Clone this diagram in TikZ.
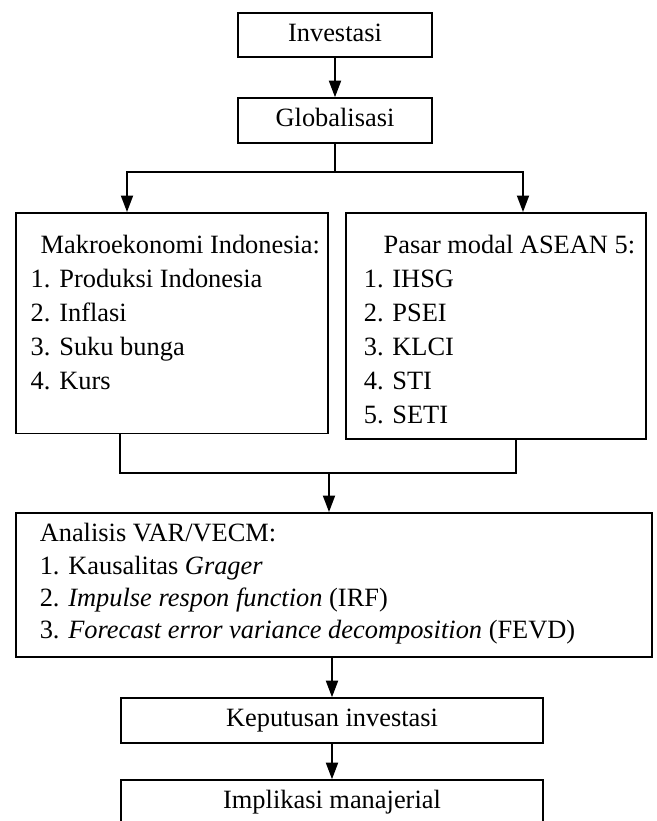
\documentclass[tikz,border=0pt]{standalone}
\usepackage{fontspec}
\setmainfont{Liberation Serif}
\usetikzlibrary{arrows.meta}

% width, height, left pad, first baseline, line skip, lines
\newcommand{\boxlist}[6]{%
  \parbox[t][#2][t]{#1}{\fontsize{12pt}{#5}\selectfont
    \leftskip=#3\relax\rule{0pt}{#4}#6}}

\begin{document}
\begin{tikzpicture}[->,>={Triangle[length=7.5pt,width=5.5pt]},
                    x=0.4545pt,y=-0.4545pt,line width=0.7pt,
                    box/.style={draw,font=\fontsize{12pt}{14pt}\selectfont,
                                text height=8pt,text depth=2.5pt},
                    listbox/.style={draw,anchor=north west,inner sep=0pt}]

  \useasboundingbox (0,0) rectangle (657,821);
  \clip (0,0) rectangle (657,821);

  \node[box,minimum width=88.2pt,minimum height=20pt]   (investasi) at (335,35)    {Investasi};
  \node[box,minimum width=88.2pt,minimum height=20.5pt] (global)    at (335,120.5) {Globalisasi};

  \node[listbox] (makro) at (15,212) {\boxlist{141.8pt}{100.4pt}{6.8pt}{18.6pt}{15.45pt}{%
      \hspace*{4.5pt}Makroekonomi Indonesia:\\ 1. Produksi Indonesia\\ 2. Inflasi\\
      3. Suku bunga\\ 4. Kurs}};
  \node[listbox] (pasar) at (345,212) {\boxlist{136.4pt}{102.7pt}{8.2pt}{18.6pt}{15.45pt}{%
      \hspace*{9pt}Pasar modal ASEAN 5:\\ 1. IHSG\\ 2. PSEI\\ 3. KLCI\\ 4. STI\\ 5. SETI}};

  \node[listbox] (analisis) at (15,512) {\boxlist{289.1pt}{65.5pt}{10.9pt}{13.2pt}{14.7pt}{%
      Analisis VAR/VECM:\\ 1. Kausalitas \textit{Grager}\\
      2. \textit{Impulse respon function} (IRF)\\
      3. \textit{Forecast error variance decomposition} (FEVD)}};

  \node[box,minimum width=191.8pt,minimum height=20.5pt] (keputusan) at (332,720.5) {Keputusan investasi};
  \node[box,minimum width=191.8pt,minimum height=20.5pt] (implikasi) at (332,802.5) {Implikasi manajerial};

  % split and join points
  \coordinate (split)    at (335,172);
  \coordinate (makroin)  at (127,212);
  \coordinate (pasarin)  at (523,212);
  \coordinate (makroout) at (120,433);
  \coordinate (pasarout) at (516,438);
  \coordinate (join)     at (329,473);

  \draw (investasi) -- (global);
  \draw[-] (global.south) -- (split);
  \draw (split) -| (makroin);
  \draw (split) -| (pasarin);
  \draw[-] (makroout) |- (join) -| (pasarout);
  \draw (join) -- (join |- analisis.north);
  \draw (keputusan.north |- analisis.south) -- (keputusan.north);
  \draw (keputusan) -- (implikasi);
\end{tikzpicture}
\end{document}
